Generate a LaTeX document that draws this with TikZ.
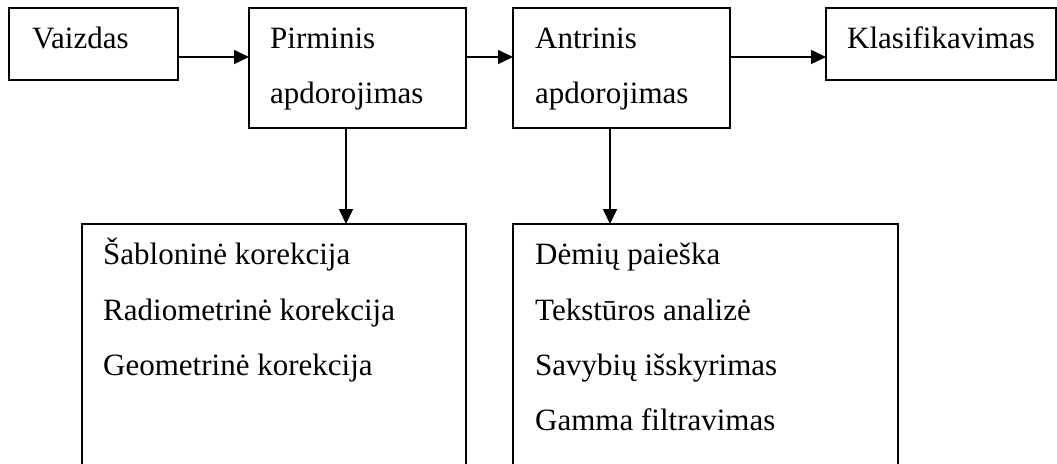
\documentclass[tikz,border=0pt]{standalone}
\usepackage{fontspec}
\setmainfont{Liberation Serif}
\usetikzlibrary{arrows.meta}
\begin{document}
\begin{tikzpicture}[x=1pt,y=-1pt,
  box/.style={draw, line width=1.6pt, rectangle, anchor=north west, inner sep=0pt, outer sep=0pt},
  lbl/.style={anchor=base west, inner sep=0pt, font=\fontsize{31}{37}\selectfont},
  flow/.style={line width=1.6pt, -{Triangle[length=15pt,width=14pt]}}]
\useasboundingbox (0,0) rectangle (1057,463);
\clip (0,0) rectangle (1057,463);

% top row of stages
\node[box, minimum width=169pt, minimum height=72pt]  (vaizdas)  at (9,8)   {};
\node[box, minimum width=217pt, minimum height=120pt] (pirminis) at (249,8) {};
\node[box, minimum width=217pt, minimum height=120pt] (antrinis) at (513,8) {};
\node[box, minimum width=230pt, minimum height=72pt]  (klasif)   at (826,8) {};

% lower detail boxes (open towards the bottom edge)
\node[box, minimum width=384pt, minimum height=260pt] (korekc)  at (82,224)  {};
\node[box, minimum width=385pt, minimum height=260pt] (analize) at (513,224) {};

% labels
\node[lbl] (t-vaizdas) at (32,48)  {Vaizdas};
\node[lbl] (t-pirm1)   at (270,48) {Pirminis};
\node[lbl] (t-pirm2)   at (270,103) {apdorojimas};
\node[lbl] (t-antr1)   at (535,48) {Antrinis};
\node[lbl] (t-antr2)   at (535,103) {apdorojimas};
\node[lbl] (t-klas)    at (847,48) {Klasifikavimas};

\node[lbl] (k1) at (103,264) {Šabloninė korekcija};
\node[lbl] (k2) at (103,320) {Radiometrinė korekcija};
\node[lbl] (k3) at (103,375) {Geometrinė korekcija};

\node[lbl] (a1) at (535,264) {Dėmių paieška};
\node[lbl] (a2) at (535,320) {Tekstūros analizė};
\node[lbl] (a3) at (535,375) {Savybių išskyrimas};
\node[lbl] (a4) at (535,430) {Gamma filtravimas};

% connector guides
\coordinate (row)   at (0,57);
\coordinate (downL) at (346,0);
\coordinate (downR) at (610,0);

\draw[flow] (vaizdas.east |- row)  -- (pirminis.west |- row);
\draw[flow] (pirminis.east |- row) -- (antrinis.west |- row);
\draw[flow] (antrinis.east |- row) -- (klasif.west |- row);
\draw[flow] (pirminis.south -| downL) -- (korekc.north -| downL);
\draw[flow] (antrinis.south -| downR) -- (analize.north -| downR);
\end{tikzpicture}
\end{document}
